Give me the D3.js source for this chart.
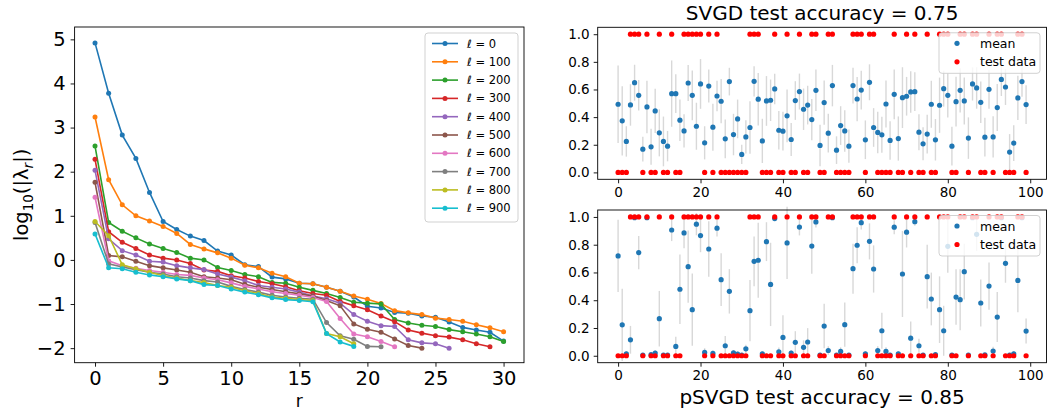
<!DOCTYPE html>
<html><head><meta charset="utf-8">
<script src="https://cdn.jsdelivr.net/npm/d3@7"></script>
<style>
body{margin:0;background:#fff}
text{font-family:"DejaVu Sans",sans-serif;fill:#000}
</style>
</head><body>
<svg id="c" width="1047" height="412"></svg>
<script>
// ---------- Left panel data: log10(|lambda_r|) for each ell ----------
const ells = [0,100,200,300,400,500,600,700,800,900];
const lam0   = [4.92,3.78,2.83,2.30,1.53,0.87,0.69,0.54,0.44,0.20,0.11,-0.11,-0.15,-0.39,-0.43,-0.53,-0.54,-0.62,-0.71,-0.84,-1.05,-1.09,-1.19,-1.21,-1.27,-1.30,-1.41,-1.53,-1.59,-1.64,-1.84];
const lam100 = [3.24,1.82,1.25,1.00,0.88,0.76,0.60,0.35,0.25,0.16,0.04,-0.12,-0.18,-0.30,-0.38,-0.53,-0.54,-0.62,-0.71,-0.82,-0.89,-0.99,-1.15,-1.20,-1.24,-1.32,-1.35,-1.39,-1.47,-1.54,-1.63];
const lam200 = [2.58,0.85,0.65,0.50,0.36,0.26,0.17,0.04,0.00,-0.17,-0.24,-0.33,-0.38,-0.51,-0.53,-0.62,-0.69,-0.76,-0.85,-0.96,-0.98,-1.00,-1.35,-1.43,-1.48,-1.51,-1.58,-1.63,-1.68,-1.74,-1.85];
const lam300 = [2.28,0.64,0.40,0.26,0.11,0.04,0.00,-0.08,-0.23,-0.26,-0.36,-0.41,-0.49,-0.54,-0.61,-0.70,-0.76,-0.80,-0.94,-1.04,-1.13,-1.27,-1.40,-1.59,-1.66,-1.72,-1.75,-1.81,-1.90,-1.97];
const lam400 = [2.03,0.48,0.21,0.11,-0.03,-0.05,-0.13,-0.18,-0.22,-0.32,-0.39,-0.47,-0.58,-0.62,-0.66,-0.73,-0.82,-0.88,-0.98,-1.24,-1.39,-1.49,-1.51,-1.81,-1.88,-1.90,-2.00];
const lam500 = [1.76,0.10,0.07,-0.03,-0.13,-0.18,-0.23,-0.28,-0.38,-0.41,-0.45,-0.55,-0.62,-0.67,-0.72,-0.77,-0.82,-0.92,-1.04,-1.45,-1.57,-1.64,-1.79,-1.94,-2.00];
const lam600 = [1.42,-0.02,-0.13,-0.19,-0.24,-0.28,-0.33,-0.35,-0.41,-0.45,-0.52,-0.60,-0.66,-0.72,-0.76,-0.80,-0.85,-0.94,-1.33,-1.68,-1.74,-1.85,-1.97];
const lam700 = [0.85,-0.09,-0.16,-0.22,-0.28,-0.32,-0.38,-0.41,-0.47,-0.50,-0.60,-0.67,-0.73,-0.80,-0.84,-0.87,-0.89,-1.42,-1.72,-1.80,-1.96,-1.97];
const lam800 = [0.87,0.55,-0.11,-0.20,-0.28,-0.36,-0.41,-0.47,-0.51,-0.58,-0.62,-0.70,-0.76,-0.84,-0.87,-0.90,-0.92,-1.67,-1.74,-1.90];
const lam900 = [0.59,-0.18,-0.20,-0.28,-0.34,-0.38,-0.43,-0.47,-0.56,-0.58,-0.66,-0.73,-0.79,-0.86,-0.90,-0.92,-0.95,-1.67,-1.86,-1.96];
const leftSeries = [lam0,lam100,lam200,lam300,lam400,lam500,lam600,lam700,lam800,lam900];
const leftXTicks = [0,5,10,15,20,25,30];
const leftYTicks = [-2,-1,0,1,2,3,4,5];

// ---------- Right panels data ----------
const testData = [0,0,0,1,1,1,0,1,0,0, 1,0,0,1,0,0,1,1,1,1, 1,0,1,0,1,0,0,0,0,0, 0,0,1,1,1,0,0,0,1,0,
                  0,1,0,0,1,0,0,1,1,0, 0,1,1,0,0,0,0,1,1,1, 0,1,1,0,0,0,0,1,0,0, 1,0,1,0,0,1,0,0,1,1,
                  1,0,0,1,1,0,1,1,0,0, 1,0,1,1,0,0,0,1,1,0];
const svgdMean = [0.493,0.373,0.224,0.488,0.649,0.558,0.168,0.474,0.185,0.445,
                  0.286,0.224,0.190,0.570,0.570,0.378,0.300,0.647,0.558,0.334,
                  0.640,0.214,0.625,0.327,0.553,0.515,0.243,0.657,0.274,0.387,
                  0.130,0.257,0.325,0.659,0.530,0.228,0.517,0.522,0.604,0.305,
                  0.298,0.409,0.238,0.520,0.585,0.457,0.487,0.382,0.594,0.195,
                  0.505,0.284,0.628,0.161,0.339,0.300,0.190,0.628,0.531,0.596,
                  0.236,0.652,0.325,0.289,0.272,0.495,0.231,0.565,0.245,0.541,
                  0.551,0.582,0.584,0.291,0.207,0.277,0.493,0.236,0.486,0.606,
                  0.558,0.190,0.512,0.594,0.517,0.248,0.640,0.611,0.507,0.255,
                  0.601,0.257,0.469,0.673,0.618,0.147,0.212,0.539,0.657,0.491];
const svgdErr = [0.28,0.25,0.11,0.15,0.13,0.11,0.09,0.19,0.13,0.16,
                 0.17,0.18,0.11,0.24,0.14,0.15,0.12,0.13,0.18,0.17,
                 0.18,0.12,0.12,0.17,0.11,0.16,0.14,0.10,0.15,0.14,
                 0.07,0.12,0.19,0.11,0.19,0.16,0.18,0.15,0.11,0.14,
                 0.14,0.19,0.12,0.14,0.13,0.15,0.14,0.15,0.15,0.15,
                 0.16,0.14,0.15,0.10,0.14,0.15,0.12,0.13,0.16,0.14,
                 0.14,0.13,0.14,0.15,0.13,0.17,0.14,0.18,0.16,0.22,
                 0.14,0.15,0.14,0.13,0.12,0.14,0.17,0.15,0.20,0.13,
                 0.16,0.14,0.18,0.16,0.17,0.15,0.12,0.15,0.15,0.14,
                 0.14,0.15,0.17,0.12,0.13,0.13,0.13,0.16,0.11,0.14];
const psvgdMean = [0.719,0.223,0.014,0.115,0.995,0.743,0.005,0.995,0.008,0.020,
                   0.267,0.005,0.005,0.906,0.067,0.479,0.885,0.642,0.332,0.948,
                   0.866,0.024,0.769,0.017,0.919,0.548,0.072,0.464,0.021,0.012,
                   0.005,0.050,0.325,0.680,0.688,0.014,0.822,0.514,0.988,0.029,
                   0.132,0.813,0.020,0.097,0.927,0.061,0.099,0.790,0.964,0.005,
                   0.214,0.038,0.995,0.005,0.031,0.224,0.005,0.627,0.796,0.959,
                   0.014,0.824,0.625,0.038,0.180,0.031,0.005,0.926,0.014,0.589,
                   0.890,0.127,0.966,0.072,0.005,0.570,0.409,0.008,0.332,0.180,
                   0.788,0.005,0.423,0.404,0.606,0.005,0.995,0.875,0.380,0.007,
                   0.502,0.034,0.279,0.995,0.666,0.005,0.014,0.543,0.995,0.178];
const psvgdErr = [0.26,0.26,0.02,0.10,0.01,0.12,0.01,0.01,0.01,0.02,
                  0.20,0.01,0.01,0.08,0.07,0.25,0.11,0.26,0.26,0.08,
                  0.12,0.03,0.20,0.02,0.06,0.19,0.07,0.16,0.02,0.02,
                  0.01,0.03,0.22,0.18,0.27,0.02,0.14,0.30,0.01,0.03,
                  0.16,0.26,0.02,0.08,0.06,0.05,0.10,0.20,0.04,0.01,
                  0.16,0.03,0.01,0.01,0.03,0.16,0.01,0.18,0.13,0.05,
                  0.02,0.13,0.17,0.03,0.13,0.03,0.01,0.05,0.02,0.31,
                  0.11,0.12,0.03,0.05,0.01,0.23,0.19,0.01,0.24,0.18,
                  0.19,0.01,0.20,0.22,0.20,0.01,0.01,0.12,0.17,0.01,
                  0.17,0.03,0.18,0.01,0.14,0.01,0.02,0.23,0.01,0.09];
const rightXTicks = [0,20,40,60,80,100];
const rightYTicks = [0,0.2,0.4,0.6,0.8,1.0];
const topTitle = "SVGD test accuracy = 0.75";
const bottomTitle = "pSVGD test accuracy = 0.85";

const colors = d3.schemeCategory10;
const svg = d3.select("#c");

function frame(g, x0, x1, y0, y1){
  g.append("rect").attr("x",x0).attr("y",y0).attr("width",x1-x0).attr("height",y1-y0)
   .attr("fill","none").attr("stroke","#000").attr("stroke-width",0.9);
}

// ================= LEFT PANEL =================
const L = {x0:74.6, x1:524, y0:27, y1:362.7};
const lx = d3.scaleLinear().domain([-1.5,31.5]).range([L.x0,L.x1]);
const ly = d3.scaleLinear().domain([-2.33,5.28]).range([L.y1,L.y0]);
const gl = svg.append("g");

const lax = gl.append("g").attr("transform",`translate(0,${L.y1})`)
  .call(d3.axisBottom(lx).tickValues(leftXTicks).tickSize(4).tickPadding(4).tickFormat(d3.format("d")));
const lay = gl.append("g").attr("transform",`translate(${L.x0},0)`)
  .call(d3.axisLeft(ly).tickValues(leftYTicks).tickSize(4).tickPadding(5).tickFormat(d=>d<0?"\u2212"+Math.abs(d):d));
[lax,lay].forEach(a=>{a.select(".domain").remove(); a.selectAll("text").style("font-size","19.5px").attr("font-family","DejaVu Sans"); a.selectAll("line").attr("stroke-width",0.9);});

const line = d3.line().x((d,i)=>lx(i)).y(d=>ly(d));
leftSeries.forEach((s,k)=>{
  const g = gl.append("g");
  g.append("path").attr("d",line(s)).attr("fill","none").attr("stroke",colors[k]).attr("stroke-width",1.6);
  g.selectAll("circle").data(s).join("circle").attr("cx",(d,i)=>lx(i)).attr("cy",d=>ly(d)).attr("r",2.5).attr("fill",colors[k]);
});
frame(gl, L.x0, L.x1, L.y0, L.y1);

// legend
const lg = gl.append("g");
lg.append("rect").attr("x",425).attr("y",33).attr("width",93).attr("height",189).attr("rx",3)
  .attr("fill","#fff").attr("fill-opacity",0.8).attr("stroke","#ccc").attr("stroke-width",0.9);
ells.forEach((e,k)=>{
  const y = 43.5 + 18.3*k;
  lg.append("line").attr("x1",432).attr("x2",458).attr("y1",y).attr("y2",y).attr("stroke",colors[k]).attr("stroke-width",1.6);
  lg.append("circle").attr("cx",445).attr("cy",y).attr("r",2.5).attr("fill",colors[k]);
  lg.append("text").attr("x",467).attr("y",y+4).style("font-size","11.5px").text(`ℓ = ${e}`);
});

// labels
gl.append("text").attr("x",(L.x0+L.x1)/2).attr("y",407).attr("text-anchor","middle").style("font-size","17px").text("r");
const yl = gl.append("text").attr("transform",`translate(28,${(L.y0+L.y1)/2}) rotate(-90)`).attr("text-anchor","middle").style("font-size","19.5px");
yl.append("tspan").text("log");
yl.append("tspan").attr("dy",5).style("font-size","13.5px").text("10");
yl.append("tspan").attr("dy",-5).text("(|λ");
yl.append("tspan").attr("dy",5).style("font-size","13.5px").style("font-style","italic").text("r");
yl.append("tspan").attr("dy",-5).text("|)");

// ================= RIGHT PANELS =================
function rightPanel(y0, y1, mean, err, title, titleY){
  const R = {x0:597.7, x1:1046.5, y0:y0, y1:y1};
  const x = d3.scaleLinear().domain([-4.95,103.95]).range([R.x0,R.x1]);
  const y = d3.scaleLinear().domain([-0.05,1.05]).range([R.y1,R.y0]);
  const g = svg.append("g");
  const ax = g.append("g").attr("transform",`translate(0,${R.y1})`)
    .call(d3.axisBottom(x).tickValues(rightXTicks).tickSize(4).tickPadding(4).tickFormat(d3.format("d")));
  const ay = g.append("g").attr("transform",`translate(${R.x0},0)`)
    .call(d3.axisLeft(y).tickValues(rightYTicks).tickSize(4).tickPadding(4).tickFormat(d3.format(".1f")));
  [ax,ay].forEach(a=>{a.select(".domain").remove(); a.selectAll("text").style("font-size","13.5px").attr("font-family","DejaVu Sans"); a.selectAll("line").attr("stroke-width",0.9);});
  const idx = d3.range(mean.length);
  g.append("g").selectAll("line").data(idx).join("line")
    .attr("x1",i=>x(i)).attr("x2",i=>x(i))
    .attr("y1",i=>y(mean[i]-err[i])).attr("y2",i=>y(mean[i]+err[i]))
    .attr("stroke","#d8d8d8").attr("stroke-width",1.4);
  g.append("g").selectAll("circle").data(idx).join("circle")
    .attr("cx",i=>x(i)).attr("cy",i=>y(mean[i])).attr("r",2.6).attr("fill","#1f77b4");
  g.append("g").selectAll("circle").data(idx).join("circle")
    .attr("cx",i=>x(i)).attr("cy",i=>y(testData[i])).attr("r",2.6).attr("fill","#ff0000");
  frame(g, R.x0, R.x1, R.y0, R.y1);
  // legend
  const lg = g.append("g");
  lg.append("rect").attr("x",939).attr("y",R.y0+5.5).attr("width",101).attr("height",40.5).attr("rx",3)
    .attr("fill","#fff").attr("fill-opacity",0.8).attr("stroke","#ccc").attr("stroke-width",0.9);
  lg.append("circle").attr("cx",957).attr("cy",R.y0+16).attr("r",2.6).attr("fill","#1f77b4");
  lg.append("text").attr("x",980).attr("y",R.y0+20.5).style("font-size","12.5px").text("mean");
  lg.append("circle").attr("cx",957).attr("cy",R.y0+34.5).attr("r",2.6).attr("fill","#ff0000");
  lg.append("text").attr("x",980).attr("y",R.y0+39).style("font-size","12.5px").text("test data");
  g.append("text").attr("x",(R.x0+R.x1)/2).attr("y",titleY).attr("text-anchor","middle").style("font-size","20px").text(title);
}
rightPanel(27.3, 179.3, svgdMean, svgdErr, topTitle, 20);
rightPanel(210, 362.7, psvgdMean, psvgdErr, bottomTitle, 404);
</script>
</body></html>
